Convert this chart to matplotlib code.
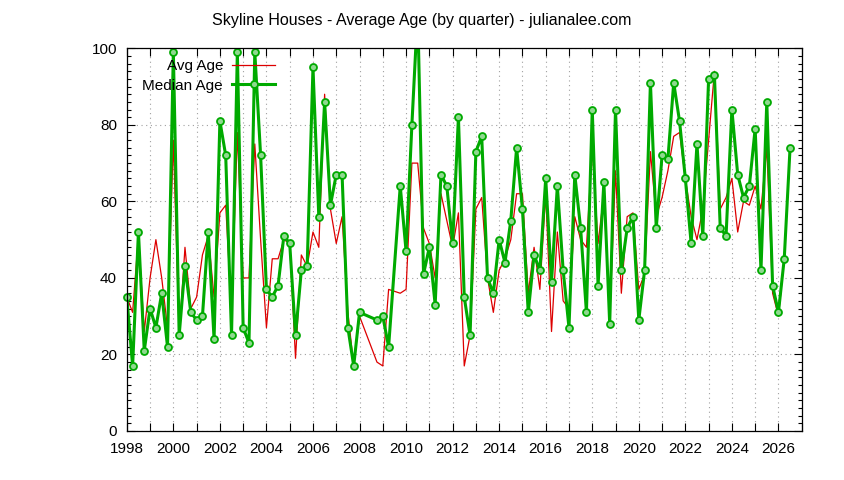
import matplotlib
matplotlib.use("Agg")
import matplotlib.pyplot as plt
from matplotlib.ticker import MultipleLocator, FixedLocator
import numpy as np

plt.rcParams['font.family'] = ['Liberation Sans', 'DejaVu Sans']
plt.rcParams['font.size'] = 11

# quarter dates (2008.25, 2008.5 and 2009.5 have no data)
quarters = [
    1998.0, 1998.25, 1998.5, 1998.75, 1999.0, 1999.25, 1999.5, 1999.75,
    2000.0, 2000.25, 2000.5, 2000.75, 2001.0, 2001.25, 2001.5, 2001.75,
    2002.0, 2002.25, 2002.5, 2002.75, 2003.0, 2003.25, 2003.5, 2003.75,
    2004.0, 2004.25, 2004.5, 2004.75, 2005.0, 2005.25, 2005.5, 2005.75,
    2006.0, 2006.25, 2006.5, 2006.75, 2007.0, 2007.25, 2007.5, 2007.75,
    2008.0, 2008.75, 2009.0, 2009.25, 2009.75,
    2010.0, 2010.25, 2010.5, 2010.75, 2011.0, 2011.25, 2011.5, 2011.75,
    2012.0, 2012.25, 2012.5, 2012.75, 2013.0, 2013.25, 2013.5, 2013.75,
    2014.0, 2014.25, 2014.5, 2014.75, 2015.0, 2015.25, 2015.5, 2015.75,
    2016.0, 2016.25, 2016.5, 2016.75, 2017.0, 2017.25, 2017.5, 2017.75,
    2018.0, 2018.25, 2018.5, 2018.75, 2019.0, 2019.25, 2019.5, 2019.75,
    2020.0, 2020.25, 2020.5, 2020.75, 2021.0, 2021.25, 2021.5, 2021.75,
    2022.0, 2022.25, 2022.5, 2022.75, 2023.0, 2023.25, 2023.5, 2023.75,
    2024.0, 2024.25, 2024.5, 2024.75, 2025.0, 2025.25, 2025.5, 2025.75,
    2026.0, 2026.25, 2026.5,
]

avg_age = [
    35, 31, 51, 26, 40, 50, 40, 27,
    76, 25, 48, 32, 35, 46, 51, 35,
    57, 59, 31, 78, 40, 40, 75, 50,
    27, 45, 45, 50, 49, 19, 46, 43,
    52, 48, 88, 58, 49, 56, 31, 17,
    30, 18, 17, 37, 36,
    37, 70, 70, 53, 49, 40, 62, 55,
    48, 57, 17, 25, 58, 61, 40, 31,
    42, 45, 50, 62, 62, 36, 48, 37,
    62, 26, 52, 34, 32, 56, 50, 48,
    74, 49, 62, 29, 68, 36, 56, 57,
    37, 41, 73, 56, 61, 68, 77, 78,
    66, 56, 50, 58, 76, 94, 58, 61,
    66, 52, 60, 59, 64, 58, 74, 36,
    30, 45, 74,
]

median_age = [
    35, 17, 52, 21, 32, 27, 36, 22,
    99, 25, 43, 31, 29, 30, 52, 24,
    81, 72, 25, 99, 27, 23, 99, 72,
    37, 35, 38, 51, 49, 25, 42, 43,
    95, 56, 86, 59, 67, 67, 27, 17,
    31, 29, 30, 22, 64,
    47, 80, 110, 41, 48, 33, 67, 64,
    49, 82, 35, 25, 73, 77, 40, 36,
    50, 44, 55, 74, 58, 31, 46, 42,
    66, 39, 64, 42, 27, 67, 53, 31,
    84, 38, 65, 28, 84, 42, 53, 56,
    29, 42, 91, 53, 72, 71, 91, 81,
    66, 49, 75, 51, 92, 93, 53, 51,
    84, 67, 61, 64, 79, 42, 86, 38,
    31, 45, 74,
]

year_ticks = np.arange(1998, 2028, 1)
year_labels = [str(y) if y % 2 == 0 and y < 2027 else '' for y in year_ticks]

green = '#00aa00'

fig = plt.figure(figsize=(8.44, 4.8), dpi=100)
ax = fig.add_axes([126.8 / 844, 1 - 431 / 480, (801.7 - 126.8) / 844, (431 - 48.3) / 480])

red_line, = ax.plot(quarters, avg_age, color='#dd0000', lw=0.9)
green_line, = ax.plot(quarters, median_age, color=green, lw=2.2)
# points off the top of the scale are not drawn, the rest may spill over the frame
green_pts, = ax.plot(quarters, np.ma.masked_greater(median_age, 100), ls='none',
                     marker='o', markersize=5, markerfacecolor='#90d890',
                     markeredgecolor=green, markeredgewidth=1.3, clip_on=False)

ax.set_xlim(1998, 2027)
ax.set_ylim(0, 100)

ax.xaxis.set_major_locator(FixedLocator(year_ticks))
ax.set_xticklabels(year_labels)
ax.yaxis.set_major_locator(MultipleLocator(20))
ax.yaxis.set_minor_locator(MultipleLocator(2))

ax.tick_params(axis='x', which='major', direction='in', length=6, width=0.8,
               top=True, bottom=True, pad=8)
ax.tick_params(axis='y', which='major', direction='in', length=6, width=0.8,
               left=True, right=True, pad=7)
ax.tick_params(axis='y', which='minor', direction='in', length=3.2, width=0.8,
               left=True, right=True)
for s in ax.spines.values():
    s.set_linewidth(0.9)
    s.set_color('black')

ax.grid(True, which='major', color='#a0a0a0', linestyle=(0, (1, 3.2)), lw=0.8)
ax.set_axisbelow(True)

ax.legend([red_line, (green_line, green_pts)], ['Avg Age', 'Median Age'],
          loc='upper right', bbox_to_anchor=(275 / 844, 1 - 59 / 480),
          bbox_transform=fig.transFigure, frameon=False, markerfirst=False,
          numpoints=1, handlelength=2.8, handletextpad=0.6, labelspacing=0.38,
          borderpad=0, borderaxespad=0)

fig.text(0.5, 1 - 20 / 480, 'Skyline Houses - Average Age (by quarter) - julianalee.com',
         ha='center', va='center', fontsize=11.5)

fig.savefig('out.png', dpi=100)
